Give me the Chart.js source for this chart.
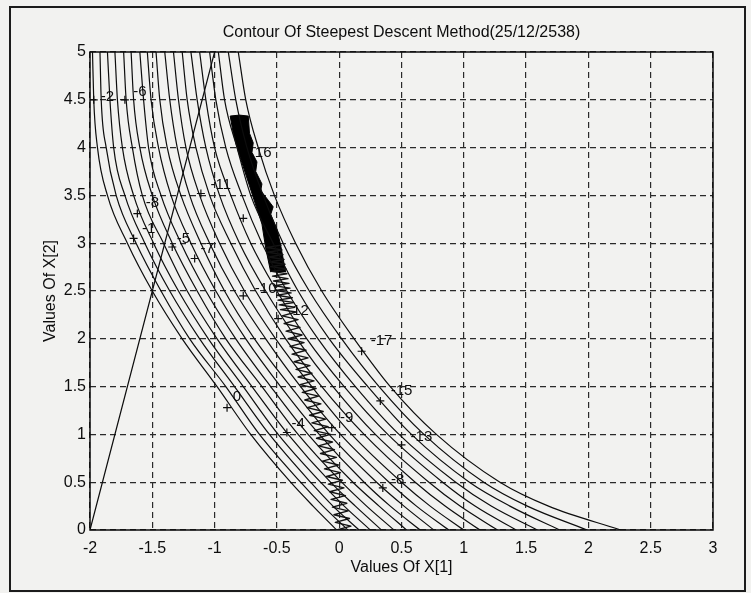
<!DOCTYPE html>
<html>
<head>
<meta charset="utf-8">
<title>Contour Of Steepest Descent Method</title>
<script src="https://cdn.jsdelivr.net/npm/chart.js@4.4.0/dist/chart.umd.min.js"></script>
<style>
    html, body { margin: 0; padding: 0; background: #f2f2f0; }
    canvas { display: block; }
</style>
</head>
<body>
<canvas id="contourChart" width="751" height="593"></canvas>
<script>
// rows (values of X[2]) where each contour crossing was read
const contourRowsY = [5, 4.5, 4, 3.5, 3, 2.5, 2, 1.5, 1, 0.5, 0.25, 0];

// X[1] position of every contour on those rows, one list per contour level
const contourLevels = [0, -1, -2, -3, -4, -5, -6, -7, -8, -9, -10, -11, -12, -13, -14, -15, -16, -17];
const contourX = [
    [-1.98, -1.97, -1.94, -1.86, -1.70, -1.50, -1.26, -0.98, -0.71, -0.39, -0.21, -0.02],
    [-1.92, -1.91, -1.87, -1.79, -1.63, -1.43, -1.20, -0.91, -0.64, -0.31, -0.13, 0.07],
    [-1.86, -1.84, -1.81, -1.72, -1.56, -1.36, -1.12, -0.84, -0.56, -0.23, -0.05, 0.16],
    [-1.80, -1.78, -1.74, -1.65, -1.49, -1.29, -1.05, -0.77, -0.49, -0.15, 0.04, 0.25],
    [-1.73, -1.71, -1.66, -1.58, -1.41, -1.22, -0.98, -0.70, -0.41, -0.07, 0.13, 0.34],
    [-1.67, -1.65, -1.60, -1.50, -1.34, -1.14, -0.91, -0.62, -0.33, 0.02, 0.22, 0.44],
    [-1.60, -1.57, -1.53, -1.43, -1.27, -1.07, -0.83, -0.55, -0.25, 0.11, 0.32, 0.54],
    [-1.54, -1.51, -1.45, -1.35, -1.19, -0.99, -0.75, -0.47, -0.16, 0.20, 0.41, 0.65],
    [-1.47, -1.44, -1.38, -1.27, -1.11, -0.92, -0.68, -0.39, -0.08, 0.30, 0.52, 0.76],
    [-1.40, -1.36, -1.30, -1.20, -1.04, -0.84, -0.59, -0.31, 0.01, 0.40, 0.62, 0.88],
    [-1.33, -1.29, -1.23, -1.12, -0.96, -0.76, -0.51, -0.22, 0.10, 0.50, 0.73, 1.00],
    [-1.26, -1.22, -1.15, -1.04, -0.87, -0.67, -0.43, -0.14, 0.20, 0.61, 0.85, 1.13],
    [-1.19, -1.14, -1.07, -0.96, -0.80, -0.59, -0.34, -0.05, 0.29, 0.72, 0.97, 1.27],
    [-1.12, -1.07, -1.00, -0.87, -0.71, -0.50, -0.26, 0.04, 0.39, 0.83, 1.09, 1.42],
    [-1.04, -0.99, -0.91, -0.78, -0.62, -0.42, -0.17, 0.13, 0.48, 0.935, 1.22, 1.59],
    [-0.97, -0.92, -0.82, -0.71, -0.53, -0.33, -0.08, 0.23, 0.58, 1.045, 1.37, 1.77],
    [-0.89, -0.83, -0.74, -0.61, -0.45, -0.24, 0.02, 0.32, 0.68, 1.16, 1.51, 1.99],
    [-0.81, -0.75, -0.65, -0.52, -0.35, -0.14, 0.12, 0.41, 0.78, 1.29, 1.68, 2.26]
];

// straight constraint line
const lineX = [-2, -1];
const lineY = [0, 5];

// zigzag of the descent iterates (lower, readable part)
const pathX = [-0.02, 0.094, -0.031, 0.083, -0.042, 0.072, -0.054, 0.061, -0.065, 0.050,
    -0.076, 0.038, -0.087, 0.026, -0.102, 0.010, -0.118, -0.006, -0.134, -0.022,
    -0.150, -0.038, -0.166, -0.054, -0.182, -0.070, -0.200, -0.089, -0.219, -0.108,
    -0.238, -0.128, -0.257, -0.147, -0.276, -0.166, -0.296, -0.185, -0.314, -0.202,
    -0.330, -0.218, -0.346, -0.234, -0.362, -0.250, -0.378, -0.266, -0.394, -0.282,
    -0.410, -0.298, -0.426, -0.314, -0.442, -0.330, -0.458, -0.346,
    -0.471, -0.356, -0.481, -0.366, -0.491, -0.376, -0.501, -0.386, -0.511, -0.395,
    -0.519, -0.403, -0.527, -0.411, -0.535, -0.419, -0.543, -0.427, -0.551, -0.435,
    -0.559, -0.443, -0.567, -0.451, -0.575, -0.459, -0.583, -0.467];
const pathY = [0, 0.04, 0.08, 0.12, 0.16, 0.20, 0.24, 0.28, 0.32, 0.36,
    0.40, 0.44, 0.48, 0.52, 0.56, 0.60, 0.64, 0.68, 0.72, 0.76,
    0.80, 0.84, 0.88, 0.92, 0.96, 1.00, 1.04, 1.08, 1.12, 1.16,
    1.20, 1.24, 1.28, 1.32, 1.36, 1.40, 1.44, 1.48, 1.52, 1.56,
    1.60, 1.64, 1.68, 1.72, 1.76, 1.80, 1.84, 1.88, 1.92, 1.96,
    2.00, 2.04, 2.08, 2.12, 2.16, 2.20, 2.24, 2.28,
    2.305, 2.33, 2.355, 2.38, 2.405, 2.43, 2.455, 2.48, 2.505, 2.53,
    2.555, 2.58, 2.605, 2.63, 2.655, 2.68, 2.705, 2.73, 2.755, 2.78,
    2.805, 2.83, 2.855, 2.88, 2.905, 2.93, 2.955, 2.98];

// the iterates pile up into a solid black head near the top
const headX = [-0.55, -0.59, -0.62, -0.67, -0.72, -0.77, -0.82, -0.85, -0.875, -0.80, -0.73, -0.72,
    -0.69, -0.70, -0.66, -0.67, -0.62, -0.63, -0.57, -0.53, -0.55, -0.50, -0.47, -0.43];
const headY = [2.70, 2.95, 3.20, 3.40, 3.60, 3.80, 4.00, 4.15, 4.33, 4.34, 4.33, 4.15,
    4.05, 3.95, 3.85, 3.75, 3.62, 3.55, 3.45, 3.38, 3.30, 3.15, 2.98, 2.70];

// clabel texts, where the text sits and where its "+" sits
const labelText = ['-2', '-6', '-8', '-1', '-5', '-7', '-11', '16', '-10', '12',
    '-17', '-15', '-13', '-8', '-9', '-4', '0'];
const labelX = [-1.86, -1.60, -1.50, -1.53, -1.25, -1.06, -0.95, -0.61, -0.59, -0.31,
    0.34, 0.50, 0.66, 0.47, 0.06, -0.33, -0.82];
const labelY = [4.53, 4.58, 3.42, 3.15, 3.05, 2.94, 3.61, 3.94, 2.52, 2.29,
    1.98, 1.46, 0.97, 0.52, 1.17, 1.11, 1.39];
const markX = [-1.97, -1.72, -1.62, -1.65, -1.34, -1.16, -1.11, -0.77, -0.77, -0.49,
    0.18, 0.33, 0.50, 0.35, -0.06, -0.42, -0.90];
const markY = [4.50, 4.50, 3.31, 3.05, 2.96, 2.84, 3.52, 3.26, 2.45, 2.21,
    1.87, 1.35, 0.89, 0.44, 1.07, 1.02, 1.28];

const FONT = "'Liberation Sans', Arial, Helvetica, sans-serif";
const INK = '#0d0d0d';

const zip = (xs, ys) => xs.map((x, i) => ({ x: x, y: ys[i] }));

const datasets = contourX.map((xs, i) => ({
    label: 'level ' + contourLevels[i],
    data: zip(xs, contourRowsY),
    showLine: true,
    borderColor: INK,
    borderWidth: 1.2,
    pointRadius: 0,
    cubicInterpolationMode: 'monotone',
    fill: false
}));

datasets.push({
    label: 'constraint',
    data: zip(lineX, lineY),
    showLine: true,
    borderColor: INK,
    borderWidth: 1.2,
    pointRadius: 0,
    tension: 0
});

datasets.push({
    label: 'path',
    data: zip(pathX, pathY),
    showLine: true,
    borderColor: '#141414',
    borderWidth: 1.4,
    pointRadius: 0,
    tension: 0
});

datasets.push({
    label: 'head',
    data: zip(headX, headY),
    showLine: true,
    borderColor: '#000',
    backgroundColor: '#000',
    borderWidth: 1,
    pointRadius: 0,
    tension: 0,
    fill: 'shape'
});

datasets.push({
    label: 'marks',
    data: zip(markX, markY),
    showLine: false,
    pointStyle: 'cross',
    pointRadius: 4,
    pointBorderWidth: 1.2,
    pointBorderColor: INK
});

// page background, outer frame, axes box, title and contour labels
const decorations = {
    id: 'decorations',
    beforeDraw(chart) {
        const ctx = chart.ctx;
        ctx.save();
        ctx.fillStyle = '#f2f2f0';
        ctx.fillRect(0, 0, chart.width, chart.height);
        ctx.restore();
    },
    afterDatasetsDraw(chart) {
        const ctx = chart.ctx;
        const sx = chart.scales.x, sy = chart.scales.y;
        ctx.save();
        ctx.fillStyle = INK;
        ctx.font = '15px ' + FONT;
        ctx.textAlign = 'center';
        ctx.textBaseline = 'middle';
        labelText.forEach((t, i) => {
            ctx.fillText(t, sx.getPixelForValue(labelX[i]), sy.getPixelForValue(labelY[i]));
        });
        ctx.restore();
    },
    afterDraw(chart) {
        const ctx = chart.ctx;
        const a = chart.chartArea;
        ctx.save();
        ctx.strokeStyle = INK;
        ctx.lineWidth = 1.5;
        ctx.strokeRect(a.left, a.top, a.right - a.left, a.bottom - a.top);
        ctx.lineWidth = 2;
        ctx.strokeStyle = '#1c1c1c';
        ctx.strokeRect(10, 7, 735, 584);
        ctx.fillStyle = INK;
        ctx.font = '16px ' + FONT;
        ctx.textAlign = 'center';
        ctx.textBaseline = 'middle';
        ctx.fillText('Contour Of Steepest Descent Method(25/12/2538)', (a.left + a.right) / 2, 33);
        ctx.restore();
    }
};

const axisGrid = {
    color: '#2a2a2a',
    lineWidth: 1.2,
    drawTicks: false
};

// MATLAB style tick text: 5, 4.5, -2, -1.5, 0
const tickText = v => String(Number(v.toFixed(1)));

new Chart(document.getElementById('contourChart').getContext('2d'), {
    type: 'scatter',
    data: { datasets: datasets },
    options: {
        responsive: false,
        animation: false,
        devicePixelRatio: 1,
        layout: { padding: { left: 0, right: 38, top: 52, bottom: 0 } },
        plugins: {
            legend: { display: false },
            tooltip: { enabled: false },
            title: { display: false }
        },
        elements: { line: { borderCapStyle: 'round', borderJoinStyle: 'round' } },
        scales: {
            x: {
                type: 'linear',
                min: -2,
                max: 3,
                ticks: { stepSize: 0.5, color: INK, font: { family: FONT, size: 16 }, padding: 9, maxRotation: 0, callback: tickText },
                grid: axisGrid,
                border: { display: false, dash: [6, 4] },
                title: {
                    display: true,
                    text: 'Values Of X[1]',
                    color: INK,
                    font: { family: FONT, size: 16 },
                    padding: { top: 0, bottom: 16 }
                },
                afterFit(scale) { scale.height = 63; }
            },
            y: {
                type: 'linear',
                min: 0,
                max: 5,
                ticks: { stepSize: 0.5, color: INK, font: { family: FONT, size: 16 }, padding: 4, callback: tickText },
                grid: axisGrid,
                border: { display: false, dash: [6, 4] },
                title: {
                    display: true,
                    text: 'Values Of X[2]',
                    color: INK,
                    font: { family: FONT, size: 16 },
                    padding: { top: 41, bottom: 0 }
                },
                afterFit(scale) { scale.width = 90; }
            }
        }
    },
    plugins: [decorations]
});
</script>
</body>
</html>
